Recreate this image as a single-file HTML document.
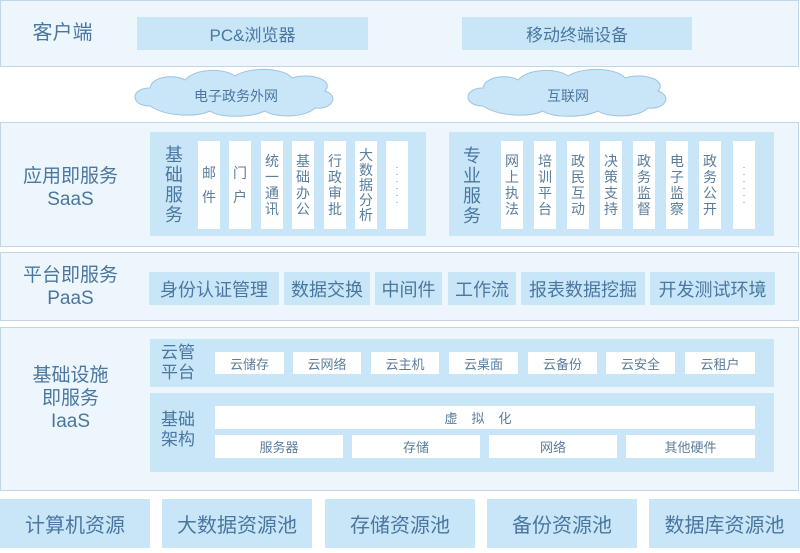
<!DOCTYPE html>
<html><head><meta charset="utf-8"><style>
*{margin:0;padding:0;box-sizing:border-box}
body{width:800px;height:553px;background:#fff;position:relative;overflow:hidden;font-family:"Liberation Sans","Noto Sans CJK SC",sans-serif;color:#4a77a0}
div{position:absolute}
.p{background:#eef6fd;border:1px solid #c3d6e6}
.b{background:#c8e6f8;display:flex;align-items:center;justify-content:center}
.w{background:#fff;display:flex;align-items:center;justify-content:center;font-size:13px;color:#5a7d9c;text-align:center}
.c{font-size:14px;line-height:16px;width:22px;height:88px;top:141px}
.c2{line-height:24px}
.lab{text-align:center;font-size:19px;line-height:23px}
.vl{font-size:18px;line-height:20px;text-align:center}
</style></head><body>
<!-- client -->
<div class="p" style="left:0;top:0;width:799px;height:67px"></div>
<div class="lab" style="left:15px;top:22px;width:95px;font-size:20px">客户端</div>
<div class="b" style="left:137px;top:17px;width:231px;height:33px;font-size:17px">PC&amp;浏览器</div>
<div class="b" style="left:462px;top:17px;width:230px;height:33px;font-size:17px">移动终端设备</div>
<!-- clouds -->
<svg style="position:absolute;left:0;top:66px" width="800" height="58">
<g fill="#c8e6f8" stroke="#9fc3dd" stroke-width="1">
<path d="M150,40 C130,40 130,22 150,22 C152,10 175,8 185,14 C195,2 225,2 235,10 C250,0 285,2 292,12 C310,6 335,14 325,25 C340,30 332,44 315,42 C305,52 275,52 265,45 C250,52 220,52 210,45 C195,52 165,50 150,40 Z"/>
<path d="M483,40 C463,40 463,22 483,22 C485,10 508,8 518,14 C528,2 558,2 568,10 C583,0 618,2 625,12 C643,6 668,14 658,25 C673,30 665,44 648,42 C638,52 608,52 598,45 C583,52 553,52 543,45 C528,52 498,50 483,40 Z"/>
</g>
<text x="236" y="35" font-size="14" fill="#4a77a0" text-anchor="middle" font-family="Liberation Sans,Noto Sans CJK SC,sans-serif">电子政务外网</text>
<text x="568" y="35" font-size="14" fill="#4a77a0" text-anchor="middle" font-family="Liberation Sans,Noto Sans CJK SC,sans-serif">互联网</text>
</svg>
<!-- SaaS -->
<div class="p" style="left:0;top:122px;width:799px;height:125px"></div>
<div class="lab" style="left:3px;top:165px;width:135px">应用即服务<br>SaaS</div>
<div class="b" style="left:150px;top:132px;width:276px;height:104px"></div>
<div class="vl" style="left:162px;top:145px;width:24px">基<br>础<br>服<br>务</div>
<div class="w c c2" style="left:198px">邮<br>件</div>
<div class="w c c2" style="left:229px">门<br>户</div>
<div class="w c" style="left:261px">统<br>一<br>通<br>讯</div>
<div class="w c" style="left:292px">基<br>础<br>办<br>公</div>
<div class="w c" style="left:324px">行<br>政<br>审<br>批</div>
<div class="w c" style="left:355px;line-height:15px">大<br>数<br>据<br>分<br>析</div>
<div class="w c" style="left:386px;font-size:9px;line-height:7px">·<br>·<br>·<br>·<br>·<br>·</div>
<div class="b" style="left:449px;top:132px;width:325px;height:104px"></div>
<div class="vl" style="left:460px;top:146px;width:24px">专<br>业<br>服<br>务</div>
<div class="w c" style="left:501px">网<br>上<br>执<br>法</div>
<div class="w c" style="left:534px">培<br>训<br>平<br>台</div>
<div class="w c" style="left:567px">政<br>民<br>互<br>动</div>
<div class="w c" style="left:600px">决<br>策<br>支<br>持</div>
<div class="w c" style="left:633px">政<br>务<br>监<br>督</div>
<div class="w c" style="left:666px">电<br>子<br>监<br>察</div>
<div class="w c" style="left:699px">政<br>务<br>公<br>开</div>
<div class="w c" style="left:733px;font-size:9px;line-height:7px">·<br>·<br>·<br>·<br>·<br>·</div>
<!-- PaaS -->
<div class="p" style="left:0;top:252px;width:799px;height:69px"></div>
<div class="lab" style="left:3px;top:264px;width:135px">平台即服务<br>PaaS</div>
<div class="b" style="left:149px;top:272px;width:130px;height:33px;font-size:18px">身份认证管理</div>
<div class="b" style="left:284px;top:272px;width:86px;height:33px;font-size:18px">数据交换</div>
<div class="b" style="left:375px;top:272px;width:67px;height:33px;font-size:18px">中间件</div>
<div class="b" style="left:448px;top:272px;width:68px;height:33px;font-size:18px">工作流</div>
<div class="b" style="left:521px;top:272px;width:124px;height:33px;font-size:18px">报表数据挖掘</div>
<div class="b" style="left:650px;top:272px;width:125px;height:33px;font-size:18px">开发测试环境</div>
<!-- IaaS -->
<div class="p" style="left:0;top:327px;width:799px;height:164px"></div>
<div class="lab" style="left:3px;top:364px;width:135px">基础设施<br>即服务<br>IaaS</div>
<div class="b" style="left:150px;top:339px;width:624px;height:48px"></div>
<div style="left:161px;top:343px;font-size:17px;line-height:20px">云管<br>平台</div>
<div class="w" style="left:215px;top:352px;width:69px;height:22px">云储存</div>
<div class="w" style="left:293px;top:352px;width:68px;height:22px">云网络</div>
<div class="w" style="left:371px;top:352px;width:68px;height:22px">云主机</div>
<div class="w" style="left:449px;top:352px;width:69px;height:22px">云桌面</div>
<div class="w" style="left:528px;top:352px;width:69px;height:22px">云备份</div>
<div class="w" style="left:606px;top:352px;width:69px;height:22px">云安全</div>
<div class="w" style="left:685px;top:352px;width:70px;height:22px">云租户</div>
<div class="b" style="left:150px;top:393px;width:624px;height:79px"></div>
<div style="left:161px;top:410px;font-size:17px;line-height:20px">基础<br>架构</div>
<div class="w" style="left:215px;top:406px;width:540px;height:23px;letter-spacing:14px">虚拟化</div>
<div class="w" style="left:215px;top:435px;width:128px;height:23px">服务器</div>
<div class="w" style="left:352px;top:435px;width:128px;height:23px">存储</div>
<div class="w" style="left:489px;top:435px;width:128px;height:23px">网络</div>
<div class="w" style="left:626px;top:435px;width:129px;height:23px">其他硬件</div>
<!-- bottom -->
<div class="b" style="left:0;top:499px;width:150px;height:49px;font-size:20px">计算机资源</div>
<div class="b" style="left:162px;top:499px;width:150px;height:49px;font-size:20px">大数据资源池</div>
<div class="b" style="left:325px;top:499px;width:150px;height:49px;font-size:20px">存储资源池</div>
<div class="b" style="left:487px;top:499px;width:150px;height:49px;font-size:20px">备份资源池</div>
<div class="b" style="left:649px;top:499px;width:151px;height:49px;font-size:20px">数据库资源池</div>
</body></html>
